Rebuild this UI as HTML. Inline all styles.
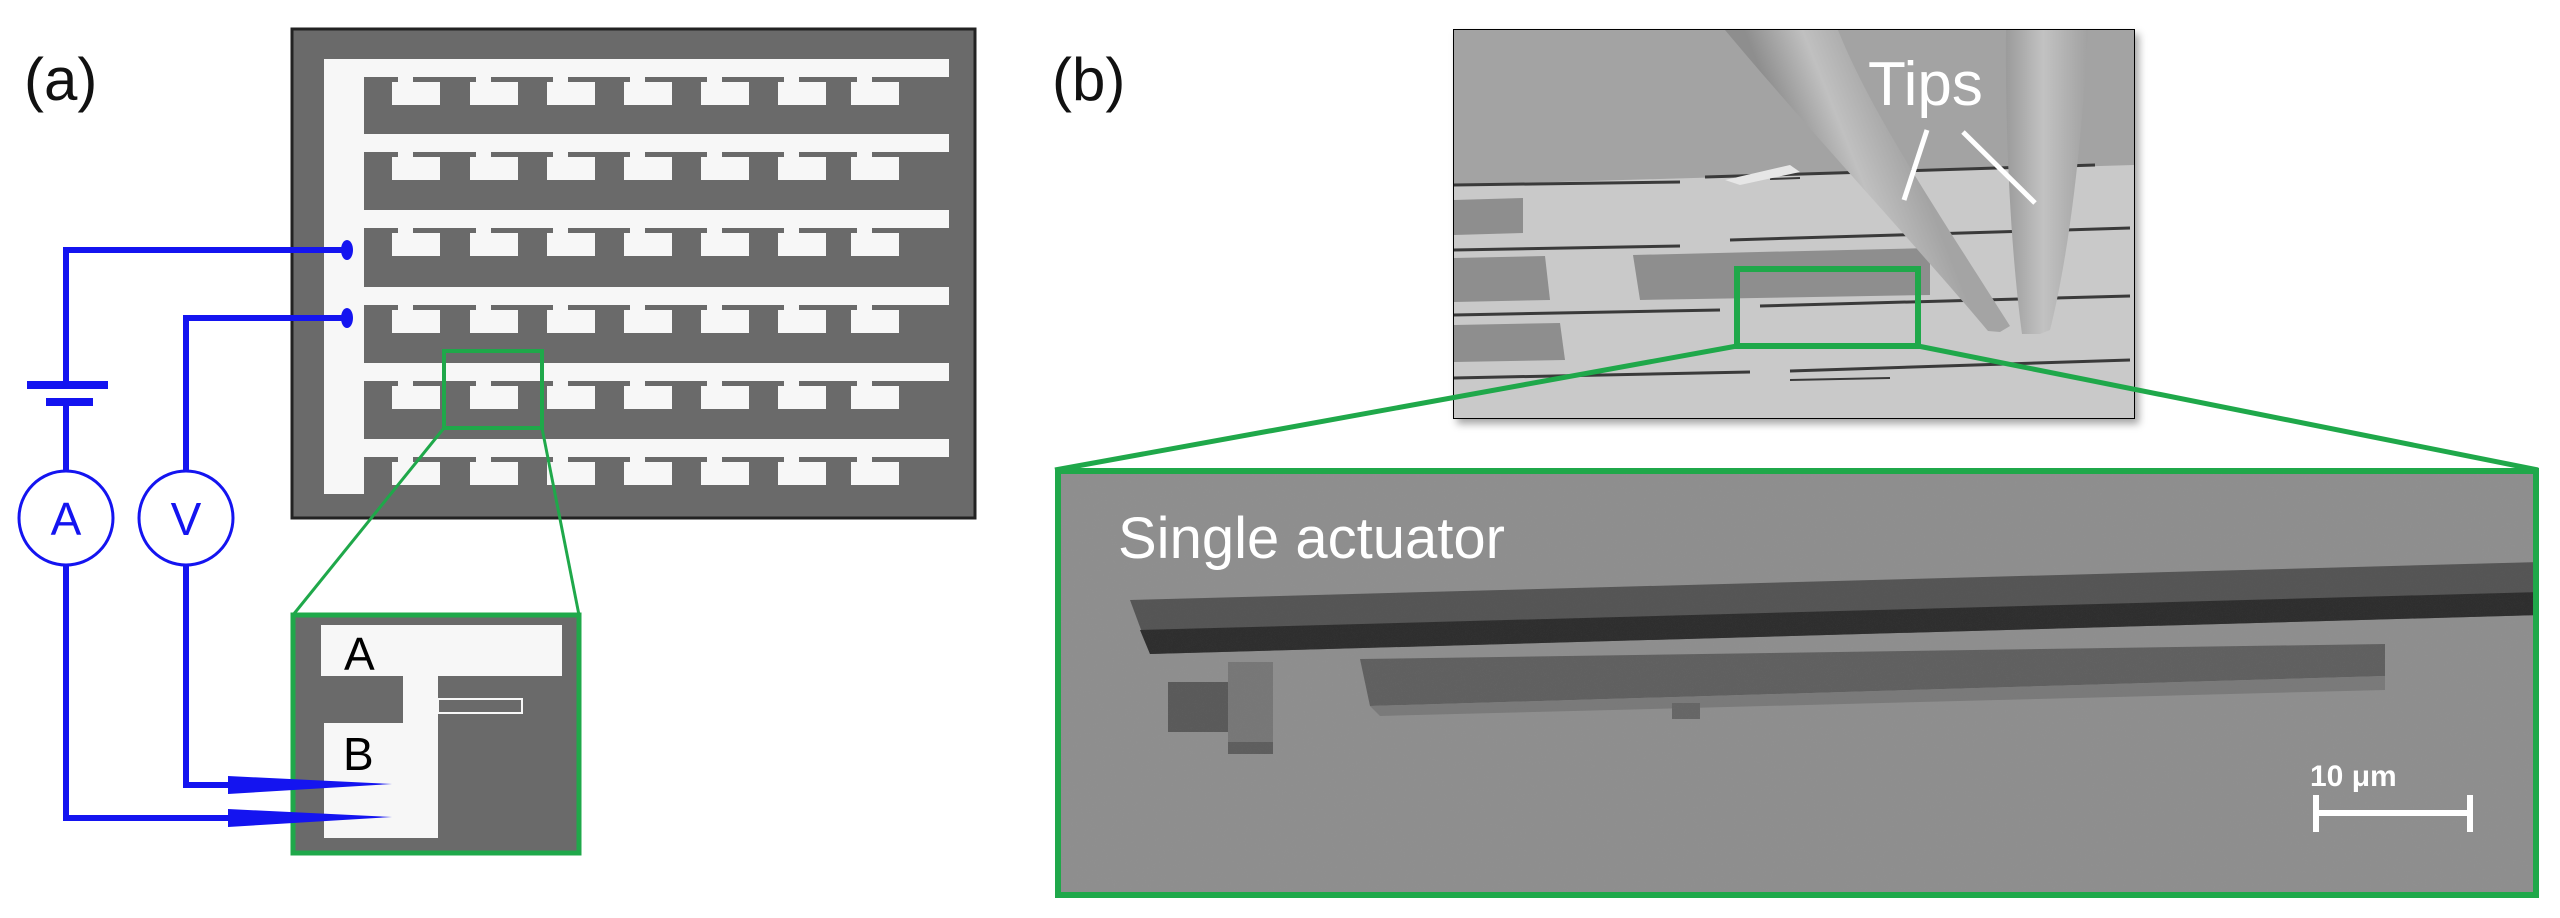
<!DOCTYPE html>
<html><head><meta charset="utf-8"><style>
html,body{margin:0;padding:0;background:#fff;}
svg{display:block;}
text{font-family:"Liberation Sans","DejaVu Sans",sans-serif;}
</style></head><body>
<svg width="2560" height="918" viewBox="0 0 2560 918" xmlns="http://www.w3.org/2000/svg">
<defs>
<filter id="noise" x="0" y="0" width="100%" height="100%">
<feTurbulence type="fractalNoise" baseFrequency="0.9" numOctaves="2" seed="3" result="n"/>
<feColorMatrix in="n" type="matrix" values="0 0 0 0 0.5  0 0 0 0 0.5  0 0 0 0 0.5  0 0 0 0.45 0" result="g"/>
<feComposite in="g" in2="SourceGraphic" operator="in" result="gn"/>
<feBlend in="SourceGraphic" in2="gn" mode="overlay"/>
</filter>
<filter id="sh" x="-5%" y="-5%" width="115%" height="115%"><feDropShadow dx="4" dy="5" stdDeviation="4" flood-color="#000" flood-opacity="0.35"/></filter>
<linearGradient id="tipL" gradientUnits="userSpaceOnUse" x1="1780" y1="120" x2="1880" y2="80"><stop offset="0" stop-color="#8e8e8e"/><stop offset="0.5" stop-color="#c0c0c0"/><stop offset="1" stop-color="#a4a4a4"/></linearGradient>
<linearGradient id="tipR" gradientUnits="userSpaceOnUse" x1="2005" y1="0" x2="2090" y2="0"><stop offset="0" stop-color="#9a9a9a"/><stop offset="0.45" stop-color="#c2c2c2"/><stop offset="1" stop-color="#a0a0a0"/></linearGradient>
<clipPath id="topclip"><rect x="1454" y="30" width="680" height="388"/></clipPath>
<clipPath id="bigclip"><rect x="1058" y="471" width="1478" height="424"/></clipPath>
</defs>

<!-- (a) -->
<text x="24" y="100" font-size="60" fill="#111">(a)</text>
<rect x="292" y="29" width="683" height="489" fill="#6a6a6a" stroke="#222" stroke-width="3"/>
<rect x="324" y="59" width="40" height="435" fill="#f7f7f7"/>
<g fill="#f7f7f7">
<rect x="324" y="59" width="625" height="18"/>
<rect x="324" y="134" width="625" height="18"/>
<rect x="324" y="210" width="625" height="18"/>
<rect x="324" y="287" width="625" height="18"/>
<rect x="324" y="363" width="625" height="18"/>
<rect x="324" y="439" width="625" height="18"/>
</g>
<g fill="#f7f7f7">
<g id="frow">
<rect x="392" y="82" width="48" height="23"/><rect x="398" y="76" width="15" height="8"/>
<rect x="470" y="82" width="48" height="23"/><rect x="476" y="76" width="15" height="8"/>
<rect x="547" y="82" width="48" height="23"/><rect x="553" y="76" width="15" height="8"/>
<rect x="624" y="82" width="48" height="23"/><rect x="630" y="76" width="15" height="8"/>
<rect x="701" y="82" width="48" height="23"/><rect x="707" y="76" width="15" height="8"/>
<rect x="778" y="82" width="48" height="23"/><rect x="784" y="76" width="15" height="8"/>
<rect x="851" y="82" width="48" height="23"/><rect x="857" y="76" width="15" height="8"/>
</g>
<use href="#frow" y="75"/>
<use href="#frow" y="151"/>
<use href="#frow" y="228"/>
<use href="#frow" y="304"/>
<use href="#frow" y="380"/>
</g>
<rect x="444" y="351" width="98" height="77" fill="none" stroke="#1fa84a" stroke-width="4"/>
<line x1="444" y1="428" x2="293" y2="615" stroke="#1fa84a" stroke-width="3"/>
<line x1="542" y1="428" x2="579" y2="615" stroke="#1fa84a" stroke-width="3"/>
<rect x="293" y="615" width="286" height="238" fill="#6a6a6a" stroke="#1fa84a" stroke-width="5"/>
<g fill="#f7f7f7">
<rect x="321" y="625" width="241" height="51"/>
<rect x="403" y="676" width="35" height="162"/>
<rect x="324" y="723" width="114" height="115"/>
</g>
<rect x="438" y="699" width="84" height="14" fill="#6a6a6a" stroke="#f7f7f7" stroke-width="2"/>
<text x="344" y="670" font-size="46" fill="#000">A</text>
<text x="343" y="770" font-size="46" fill="#000">B</text>
<g stroke="#1414f0" stroke-width="6" fill="none">
<polyline points="66,385 66,250 342,250"/>
<polyline points="186,470 186,318 342,318"/>
<line x1="66" y1="402" x2="66" y2="470"/>
<circle cx="66" cy="518" r="47" stroke-width="3"/>
<circle cx="186" cy="518" r="47" stroke-width="3"/>
<polyline points="66,566 66,818 232,818"/>
<polyline points="186,566 186,785 232,785"/>
</g>
<g fill="#1414f0">
<rect x="27" y="381" width="81" height="8"/>
<rect x="46" y="398" width="47" height="8"/>
<ellipse cx="347" cy="250" rx="6" ry="10"/>
<ellipse cx="347" cy="318" rx="6" ry="10"/>
<polygon points="228,776 392,784 228,794"/>
<polygon points="228,809 392,817 228,827"/>
</g>
<text x="66" y="535" font-size="46" fill="#1414f0" text-anchor="middle">A</text>
<text x="186" y="535" font-size="46" fill="#1414f0" text-anchor="middle">V</text>

<!-- (b) -->
<text x="1052" y="100" font-size="60" fill="#111">(b)</text>
<g filter="url(#sh)"><rect x="1453" y="29" width="682" height="390" fill="#000"/></g>
<g clip-path="url(#topclip)">
<rect x="1454" y="30" width="680" height="388" fill="#a3a3a3"/>
<polygon points="1454,185 2134,165 2134,418 1454,418" fill="#c9c9c9"/>
<g fill="#8e8e8e">
<polygon points="1454,200 1523,198 1523,233 1454,235"/>
<polygon points="1633,255 1930,248 1930,295 1640,300"/>
<polygon points="1454,258 1545,256 1550,300 1454,302"/>
<polygon points="1454,325 1560,323 1565,360 1454,362"/>
</g>
<g stroke="#3a3a3a" stroke-width="3">
<line x1="1454" y1="185" x2="1680" y2="182"/><line x1="1705" y1="177" x2="2095" y2="165"/>
<line x1="1454" y1="250" x2="1680" y2="246"/><line x1="1730" y1="240" x2="2130" y2="228"/>
<line x1="1454" y1="315" x2="1720" y2="310"/><line x1="1760" y1="306" x2="2130" y2="296"/>
<line x1="1454" y1="378" x2="1750" y2="372"/><line x1="1790" y1="371" x2="2130" y2="360"/>
<line x1="1790" y1="380" x2="1890" y2="378" stroke-width="2"/>
<line x1="1770" y1="179" x2="1800" y2="178" stroke-width="2"/>
</g>
<path d="M1725,30 L1838,30 C1870,110 1930,200 2010,326 L2000,332 L1988,331 C1920,250 1800,120 1725,30 Z" fill="url(#tipL)"/>
<path d="M2006,30 L2088,30 C2082,140 2070,250 2050,330 L2040,334 L2022,334 C2012,260 2005,150 2006,30 Z" fill="url(#tipR)"/>
<polygon points="1725,180 1790,165 1800,172 1740,185" fill="#e6e6e6"/>
</g>
<text x="1868" y="105" font-size="62" fill="#fff">Tips</text>
<line x1="1927" y1="130" x2="1904" y2="200" stroke="#fff" stroke-width="5"/>
<line x1="1963" y1="132" x2="2035" y2="203" stroke="#fff" stroke-width="5"/>
<rect x="1737" y="269" width="181" height="77" fill="none" stroke="#1fa84a" stroke-width="6"/>
<line x1="1737" y1="346" x2="1055" y2="470" stroke="#1fa84a" stroke-width="5"/>
<line x1="1918" y1="346" x2="2538" y2="470" stroke="#1fa84a" stroke-width="5"/>

<g clip-path="url(#bigclip)">
<g filter="url(#noise)">
<rect x="1058" y="471" width="1478" height="424" fill="#8e8e8e"/>
<polygon points="1130,600 2540,562 2540,615 1150,654" fill="#555"/>
<polygon points="1140,630 2540,592 2540,615 1150,654" fill="#2e2e2e"/>
<polygon points="1360,659 2385,644 2385,676 1370,706" fill="#606060"/>
<polygon points="1370,706 2385,676 2385,690 1380,716" fill="#7a7a7a"/>
<rect x="1168" y="682" width="60" height="50" fill="#5a5a5a"/>
<rect x="1228" y="662" width="45" height="80" fill="#777"/>
<rect x="1228" y="742" width="45" height="12" fill="#5e5e5e"/>
<rect x="1672" y="703" width="28" height="16" fill="#666"/>
</g>
</g>
<rect x="1058" y="471" width="1478" height="424" fill="none" stroke="#1fa84a" stroke-width="6"/>
<text x="1118" y="558" font-size="58" fill="#fff">Single actuator</text>
<text x="2310" y="786" font-size="30" font-weight="bold" fill="#fff">10 μm</text>
<g stroke="#fff" stroke-width="6">
<line x1="2316" y1="813" x2="2470" y2="813"/>
<line x1="2316" y1="795" x2="2316" y2="832"/>
<line x1="2470" y1="795" x2="2470" y2="832"/>
</g>
</svg>
</body></html>
